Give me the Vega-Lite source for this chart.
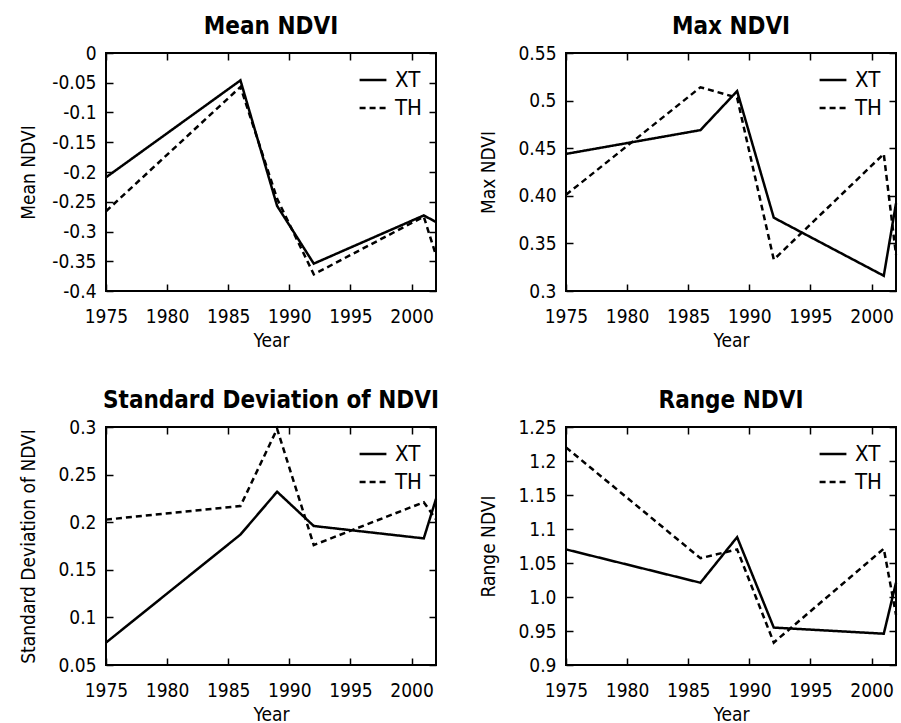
{
  "$schema": "https://vega.github.io/schema/vega-lite/v6.json",
  "background": "white",
  "padding": {"left": 17, "top": 14, "right": 2, "bottom": 0},
  "data": {"values": [
    {"metric": "Mean NDVI", "year": 1975, "site": "XT", "value": -0.209},
    {"metric": "Mean NDVI", "year": 1986, "site": "XT", "value": -0.046},
    {"metric": "Mean NDVI", "year": 1989, "site": "XT", "value": -0.257},
    {"metric": "Mean NDVI", "year": 1992, "site": "XT", "value": -0.354},
    {"metric": "Mean NDVI", "year": 2001, "site": "XT", "value": -0.273},
    {"metric": "Mean NDVI", "year": 2002, "site": "XT", "value": -0.284},
    {"metric": "Mean NDVI", "year": 1975, "site": "TH", "value": -0.266},
    {"metric": "Mean NDVI", "year": 1986, "site": "TH", "value": -0.057},
    {"metric": "Mean NDVI", "year": 1989, "site": "TH", "value": -0.245},
    {"metric": "Mean NDVI", "year": 1992, "site": "TH", "value": -0.372},
    {"metric": "Mean NDVI", "year": 2001, "site": "TH", "value": -0.275},
    {"metric": "Mean NDVI", "year": 2002, "site": "TH", "value": -0.34},
    {"metric": "Max NDVI", "year": 1975, "site": "XT", "value": 0.444},
    {"metric": "Max NDVI", "year": 1986, "site": "XT", "value": 0.469},
    {"metric": "Max NDVI", "year": 1989, "site": "XT", "value": 0.510},
    {"metric": "Max NDVI", "year": 1992, "site": "XT", "value": 0.377},
    {"metric": "Max NDVI", "year": 2001, "site": "XT", "value": 0.316},
    {"metric": "Max NDVI", "year": 2002, "site": "XT", "value": 0.392},
    {"metric": "Max NDVI", "year": 1975, "site": "TH", "value": 0.401},
    {"metric": "Max NDVI", "year": 1986, "site": "TH", "value": 0.514},
    {"metric": "Max NDVI", "year": 1989, "site": "TH", "value": 0.503},
    {"metric": "Max NDVI", "year": 1992, "site": "TH", "value": 0.333},
    {"metric": "Max NDVI", "year": 2001, "site": "TH", "value": 0.444},
    {"metric": "Max NDVI", "year": 2002, "site": "TH", "value": 0.338},
    {"metric": "SD NDVI", "year": 1975, "site": "XT", "value": 0.0735},
    {"metric": "SD NDVI", "year": 1986, "site": "XT", "value": 0.187},
    {"metric": "SD NDVI", "year": 1989, "site": "XT", "value": 0.232},
    {"metric": "SD NDVI", "year": 1992, "site": "XT", "value": 0.196},
    {"metric": "SD NDVI", "year": 2001, "site": "XT", "value": 0.183},
    {"metric": "SD NDVI", "year": 2002, "site": "XT", "value": 0.2245},
    {"metric": "SD NDVI", "year": 1975, "site": "TH", "value": 0.2027},
    {"metric": "SD NDVI", "year": 1986, "site": "TH", "value": 0.217},
    {"metric": "SD NDVI", "year": 1989, "site": "TH", "value": 0.298},
    {"metric": "SD NDVI", "year": 1992, "site": "TH", "value": 0.176},
    {"metric": "SD NDVI", "year": 2001, "site": "TH", "value": 0.221},
    {"metric": "SD NDVI", "year": 2002, "site": "TH", "value": 0.203},
    {"metric": "Range NDVI", "year": 1975, "site": "XT", "value": 1.070},
    {"metric": "Range NDVI", "year": 1986, "site": "XT", "value": 1.021},
    {"metric": "Range NDVI", "year": 1989, "site": "XT", "value": 1.088},
    {"metric": "Range NDVI", "year": 1992, "site": "XT", "value": 0.955},
    {"metric": "Range NDVI", "year": 2001, "site": "XT", "value": 0.946},
    {"metric": "Range NDVI", "year": 2002, "site": "XT", "value": 1.021},
    {"metric": "Range NDVI", "year": 1975, "site": "TH", "value": 1.220},
    {"metric": "Range NDVI", "year": 1986, "site": "TH", "value": 1.057},
    {"metric": "Range NDVI", "year": 1989, "site": "TH", "value": 1.070},
    {"metric": "Range NDVI", "year": 1992, "site": "TH", "value": 0.933},
    {"metric": "Range NDVI", "year": 2001, "site": "TH", "value": 1.071},
    {"metric": "Range NDVI", "year": 2002, "site": "TH", "value": 0.974}
  ]},
  "columns": 2,
  "spacing": {"row": 136, "column": 130},
  "bounds": "flush",
  "config": {
    "font": "DejaVu Sans Condensed, Roboto, sans-serif",
    "view": {"stroke": "black", "strokeWidth": 2},
    "title": {"fontSize": 24, "fontWeight": "bold", "color": "black", "font": "DejaVu Sans Condensed, Roboto, sans-serif", "offset": 5},
    "axis": {
      "domain": false, "grid": false,
      "tickColor": "black", "tickSize": -7, "tickWidth": 1.5,
      "labelColor": "black", "labelFontSize": 19, "labelFont": "DejaVu Sans Condensed, Roboto, sans-serif",
      "labelPadding": 17, "labelFlush": false, "labelOverlap": false,
      "titleColor": "black", "titleFontSize": 19, "titleFontWeight": "normal", "titleFont": "DejaVu Sans Condensed, Roboto, sans-serif"
    },
    "axisX": {"titleY": 49, "titleBaseline": "middle", "labelPadding": 23},
    "axisY": {"titleX": -78, "titleBaseline": "middle"},
    "legend": {
      "orient": "none", "legendX": 252, "legendY": 12,
      "symbolType": "stroke", "symbolSize": 720, "symbolStrokeWidth": 2.5, "symbolStrokeColor": "black",
      "labelFontSize": 22, "labelColor": "black", "labelFont": "DejaVu Sans Condensed, Roboto, sans-serif",
      "labelOffset": 7, "rowPadding": 2
    }
  },
  "concat": [
    {
      "title": "Mean NDVI",
      "width": 330, "height": 238,
      "transform": [{"filter": "datum.metric === 'Mean NDVI'"}],
      "layer": [
        {
          "mark": {"type": "line", "color": "black", "strokeWidth": 2.5},
          "encoding": {
            "x": {"field": "year", "type": "quantitative", "scale": {"domain": [1975, 2002], "nice": false, "zero": false},
                  "axis": {"title": "Year", "values": [1975, 1980, 1985, 1990, 1995, 2000], "format": "d"}},
            "y": {"field": "value", "type": "quantitative", "scale": {"domain": [-0.4, 0], "nice": false, "zero": false},
                  "axis": {"title": "Mean NDVI", "values": [-0.4, -0.35, -0.3, -0.25, -0.2, -0.15, -0.1, -0.05, 0],
                           "labelExpr": "replace(format(datum.value, '.2~f'), '\u2212', '-')"}},
            "strokeDash": {"field": "site", "type": "nominal", "scale": {"domain": ["XT", "TH"], "range": [[1, 0], [6, 4]]}, "legend": {"title": null}}
          }
        },
        {
          "mark": {"type": "point", "opacity": 0},
          "encoding": {
            "x": {"field": "year", "type": "quantitative", "scale": {"domain": [1975, 2002], "nice": false, "zero": false},
                  "axis": {"orient": "top", "title": null, "labels": false, "values": [1975, 1980, 1985, 1990, 1995, 2000]}},
            "y": {"field": "value", "type": "quantitative", "scale": {"domain": [-0.4, 0], "nice": false, "zero": false},
                  "axis": {"orient": "right", "title": null, "labels": false, "values": [-0.4, -0.35, -0.3, -0.25, -0.2, -0.15, -0.1, -0.05, 0]}}
          }
        }
      ],
      "resolve": {"axis": {"x": "independent", "y": "independent"}}
    },
    {
      "title": "Max NDVI",
      "width": 330, "height": 238,
      "transform": [{"filter": "datum.metric === 'Max NDVI'"}],
      "layer": [
        {
          "mark": {"type": "line", "color": "black", "strokeWidth": 2.5},
          "encoding": {
            "x": {"field": "year", "type": "quantitative", "scale": {"domain": [1975, 2002], "nice": false, "zero": false},
                  "axis": {"title": "Year", "values": [1975, 1980, 1985, 1990, 1995, 2000], "format": "d"}},
            "y": {"field": "value", "type": "quantitative", "scale": {"domain": [0.3, 0.55], "nice": false, "zero": false},
                  "axis": {"title": "Max NDVI", "values": [0.3, 0.35, 0.4, 0.45, 0.5, 0.55],
                           "labelExpr": "abs(datum.value - 0.4) < 1e-9 ? '0.40' : format(datum.value, '.2~f')"}},
            "strokeDash": {"field": "site", "type": "nominal", "scale": {"domain": ["XT", "TH"], "range": [[1, 0], [6, 4]]}, "legend": {"title": null}}
          }
        },
        {
          "mark": {"type": "point", "opacity": 0},
          "encoding": {
            "x": {"field": "year", "type": "quantitative", "scale": {"domain": [1975, 2002], "nice": false, "zero": false},
                  "axis": {"orient": "top", "title": null, "labels": false, "values": [1975, 1980, 1985, 1990, 1995, 2000]}},
            "y": {"field": "value", "type": "quantitative", "scale": {"domain": [0.3, 0.55], "nice": false, "zero": false},
                  "axis": {"orient": "right", "title": null, "labels": false, "values": [0.3, 0.35, 0.4, 0.45, 0.5, 0.55]}}
          }
        }
      ],
      "resolve": {"axis": {"x": "independent", "y": "independent"}}
    },
    {
      "title": "Standard Deviation of NDVI",
      "width": 330, "height": 238,
      "transform": [{"filter": "datum.metric === 'SD NDVI'"}],
      "layer": [
        {
          "mark": {"type": "line", "color": "black", "strokeWidth": 2.5},
          "encoding": {
            "x": {"field": "year", "type": "quantitative", "scale": {"domain": [1975, 2002], "nice": false, "zero": false},
                  "axis": {"title": "Year", "values": [1975, 1980, 1985, 1990, 1995, 2000], "format": "d"}},
            "y": {"field": "value", "type": "quantitative", "scale": {"domain": [0.05, 0.3], "nice": false, "zero": false},
                  "axis": {"title": "Standard Deviation of NDVI", "values": [0.05, 0.1, 0.15, 0.2, 0.25, 0.3],
                           "labelExpr": "format(datum.value, '.2~f')"}},
            "strokeDash": {"field": "site", "type": "nominal", "scale": {"domain": ["XT", "TH"], "range": [[1, 0], [6, 4]]}, "legend": {"title": null}}
          }
        },
        {
          "mark": {"type": "point", "opacity": 0},
          "encoding": {
            "x": {"field": "year", "type": "quantitative", "scale": {"domain": [1975, 2002], "nice": false, "zero": false},
                  "axis": {"orient": "top", "title": null, "labels": false, "values": [1975, 1980, 1985, 1990, 1995, 2000]}},
            "y": {"field": "value", "type": "quantitative", "scale": {"domain": [0.05, 0.3], "nice": false, "zero": false},
                  "axis": {"orient": "right", "title": null, "labels": false, "values": [0.05, 0.1, 0.15, 0.2, 0.25, 0.3]}}
          }
        }
      ],
      "resolve": {"axis": {"x": "independent", "y": "independent"}}
    },
    {
      "title": "Range NDVI",
      "width": 330, "height": 238,
      "transform": [{"filter": "datum.metric === 'Range NDVI'"}],
      "layer": [
        {
          "mark": {"type": "line", "color": "black", "strokeWidth": 2.5},
          "encoding": {
            "x": {"field": "year", "type": "quantitative", "scale": {"domain": [1975, 2002], "nice": false, "zero": false},
                  "axis": {"title": "Year", "values": [1975, 1980, 1985, 1990, 1995, 2000], "format": "d"}},
            "y": {"field": "value", "type": "quantitative", "scale": {"domain": [0.9, 1.25], "nice": false, "zero": false},
                  "axis": {"title": "Range NDVI", "values": [0.9, 0.95, 1.0, 1.05, 1.1, 1.15, 1.2, 1.25],
                           "labelExpr": "abs(datum.value - 1) < 1e-9 ? '1.0' : format(datum.value, '.2~f')"}},
            "strokeDash": {"field": "site", "type": "nominal", "scale": {"domain": ["XT", "TH"], "range": [[1, 0], [6, 4]]}, "legend": {"title": null}}
          }
        },
        {
          "mark": {"type": "point", "opacity": 0},
          "encoding": {
            "x": {"field": "year", "type": "quantitative", "scale": {"domain": [1975, 2002], "nice": false, "zero": false},
                  "axis": {"orient": "top", "title": null, "labels": false, "values": [1975, 1980, 1985, 1990, 1995, 2000]}},
            "y": {"field": "value", "type": "quantitative", "scale": {"domain": [0.9, 1.25], "nice": false, "zero": false},
                  "axis": {"orient": "right", "title": null, "labels": false, "values": [0.9, 0.95, 1.0, 1.05, 1.1, 1.15, 1.2, 1.25]}}
          }
        }
      ],
      "resolve": {"axis": {"x": "independent", "y": "independent"}}
    }
  ],
  "resolve": {"scale": {"strokeDash": "independent"}, "legend": {"strokeDash": "independent"}}
}
